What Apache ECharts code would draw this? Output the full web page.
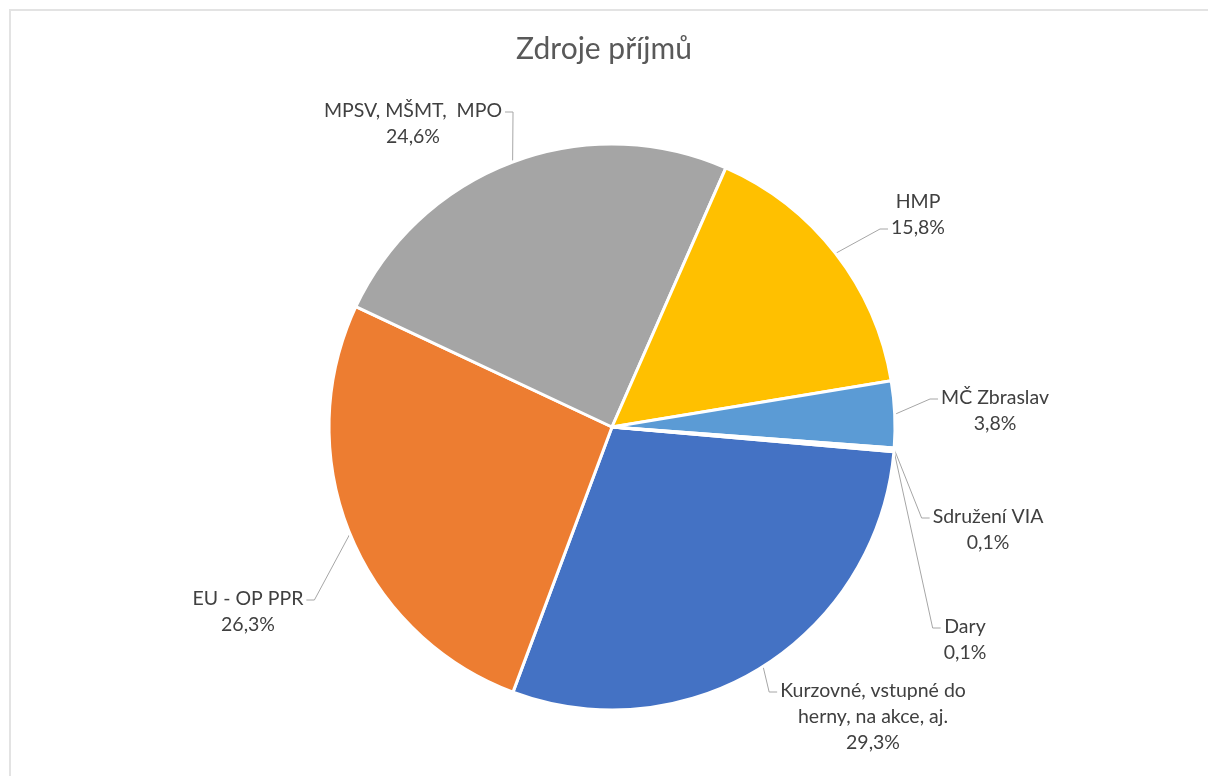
<!DOCTYPE html>
<html>
<head>
<meta charset="utf-8">
<title>Zdroje příjmů</title>
<script src="https://cdn.jsdelivr.net/npm/echarts@6/dist/echarts.min.js"></script>
<style>
  html, body { margin: 0; padding: 0; background: #fff; overflow: hidden; }
  #frame { position: absolute; left: 9px; top: 9px; width: 1300px; height: 900px; border: 2px solid #e3e3e3; }
  #piechart { position: absolute; left: 0; top: 0; width: 1208px; height: 776px; }
</style>
</head>
<body>
<div id="frame"></div>
<div id="piechart"></div>
<script>
// data (clockwise order, first slice starts right of 3 o'clock)
const categories = [
  'Kurzovné, vstupné do\nherny, na akce, aj.',
  'EU - OP PPR',
  'MPSV, MŠMT,  MPO',
  'HMP',
  'MČ Zbraslav',
  'Sdružení VIA',
  'Dary'
]
const values = [29.3, 26.3, 24.6, 15.8, 3.8, 0.1, 0.1]
const colors = ['#4472C4', '#ED7D31', '#A5A5A5', '#FFC000', '#5B9BD5', '#70AD47', '#264478']

// where each label block sits (centre of text), like the excel layout
const labelAt = [[873, 717], [248, 612], [413, 124], [918, 215], [995, 411], [988, 530], [965, 640]]
// which text line the leader line meets
const lineRow = [0, 0, 0, 1, 0, 0, 0]

const chart = echarts.init(document.getElementById('piechart'))

chart.setOption({
  animation: false,
  title: {
    text: 'Zdroje příjmů',
    left: 'center',
    top: 29,
    textStyle: {
      color: '#595959',
      fontFamily: 'Lato',
      fontSize: 30,
      fontWeight: 'normal'
    }
  },
  series: [
    {
      type: 'pie',
      center: [612, 427],
      radius: [0, 283],
      startAngle: -5,
      clockwise: true,
      avoidLabelOverlap: false,
      itemStyle: {
        borderColor: '#fff',
        borderWidth: 3
      },
      label: {
        show: true,
        position: 'outside',
        color: '#404040',
        fontFamily: 'Lato',
        fontSize: 19.5,
        lineHeight: 26,
        align: 'center',
        formatter: p => p.name + '\n' + p.value.toFixed(1).replace('.', ',') + '%'
      },
      labelLine: {
        show: true,
        length: 20,
        length2: 8,
        lineStyle: { color: '#a6a6a6', width: 1 }
      },
      labelLayout: function (params) {
        const i = params.dataIndex
        const pos = labelAt[i]
        const w = params.labelRect.width
        const h = params.labelRect.height
        const start = params.labelLinePoints[0]
        const left = pos[0] - w / 2 - 3
        const right = pos[0] + w / 2 + 3
        const toRight = start[0] < left
        const ex = toRight ? left : right
        const ey = pos[1] - h / 2 + 14 + lineRow[i] * 26
        const kx = toRight ? ex - 8 : ex + 8
        return {
          x: pos[0],
          y: pos[1],
          align: 'center',
          verticalAlign: 'middle',
          labelLinePoints: [start, [kx, ey], [ex, ey]]
        }
      },
      data: categories.map((name, i) => ({
        name: name,
        value: values[i],
        itemStyle: { color: colors[i] }
      }))
    }
  ]
})
</script>
</body>
</html>
